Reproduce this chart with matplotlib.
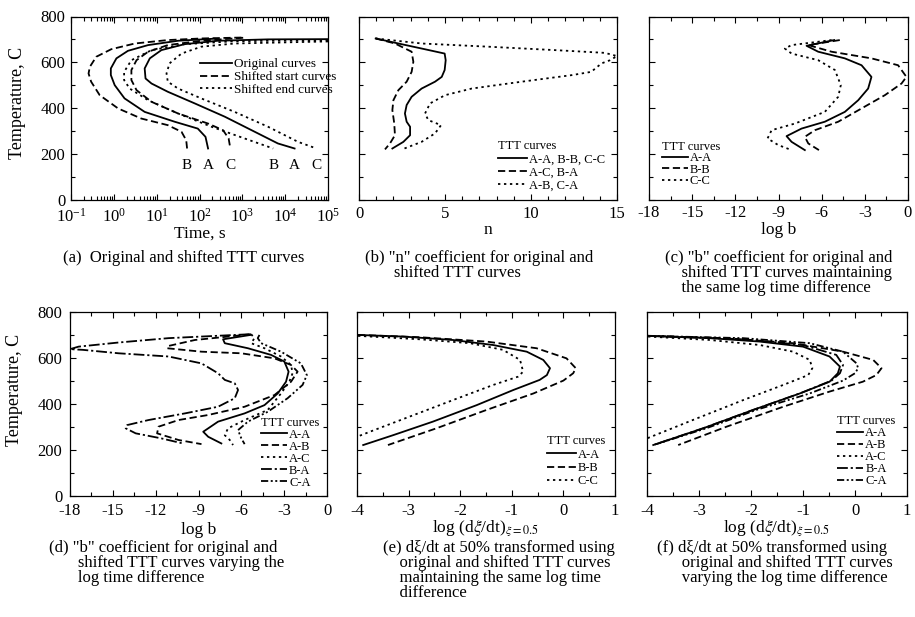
import numpy as np
import matplotlib
matplotlib.use('Agg')
import matplotlib.pyplot as plt
from matplotlib.ticker import MultipleLocator, LogLocator, NullFormatter

plt.rcParams['font.family'] = ['Liberation Serif', 'DejaVu Serif']
plt.rcParams['mathtext.fontset'] = 'stix'
plt.rcParams['axes.unicode_minus'] = False
plt.rcParams['axes.linewidth'] = 0.9

# (a) TTT curves, log10(time in s) against temperature in C
a_start_logt = [2.35, 1.50, 0.80, 0.33, 0.06, -0.07, -0.07, 0.02, 0.25, 0.72, 1.42, 1.96, 2.14, 2.20]
a_start_T = [703, 694, 675, 650, 617, 573, 544, 500, 442, 383, 340, 310, 274, 223]
b_start_logt = [2.98, 2.04, 1.26, 0.49, -0.06, -0.41, -0.56, -0.59, -0.53, -0.33, 0.10, 0.64, 1.26, 1.58, 1.69, 1.71]
b_start_T = [708, 704, 697, 682, 657, 624, 580, 551, 515, 456, 398, 354, 325, 296, 259, 223]
c_start_logt = [3.02, 2.04, 1.26, 0.80, 0.53, 0.41, 0.41, 0.53, 0.88, 1.50, 2.20, 2.55, 2.68, 2.72]
c_start_T = [707, 694, 675, 646, 609, 566, 522, 478, 427, 376, 332, 303, 267, 223]
a_end_logt = [5.0, 3.60, 2.43, 1.65, 1.11, 0.84, 0.72, 0.74, 0.88, 1.26, 1.89, 2.59, 3.29, 3.83, 4.22]
a_end_T = [701, 700, 694, 679, 653, 617, 573, 529, 507, 471, 420, 362, 296, 245, 223]
b_end_logt = [5.0, 2.82, 1.65, 0.88, 0.41, 0.24, 0.24, 0.37, 0.80, 1.50, 2.28, 3.05, 3.72]
b_end_T = [697, 692, 679, 653, 609, 558, 522, 485, 434, 376, 318, 267, 223]
c_end_logt = [5.0, 2.82, 2.04, 1.58, 1.30, 1.23, 1.26, 1.50, 2.04, 2.82, 3.60, 4.30, 4.73]
c_end_T = [691, 682, 668, 638, 595, 551, 515, 485, 442, 383, 318, 252, 223]
curve_letters = ['B', 'A', 'C', 'B', 'A', 'C']

# (b) n coefficient
n_same = [0.97, 2.29, 3.64, 4.98, 5.04, 4.98, 4.81, 4.42, 3.64, 3.06, 2.77, 2.67, 2.77, 2.97, 2.97, 2.58, 1.94]
n_same_T = [704, 682, 660, 638, 609, 566, 536, 515, 485, 449, 413, 376, 340, 318, 281, 252, 223]
n_ac_ba = [0.97, 2.09, 3.06, 3.16, 3.06, 2.77, 2.29, 2.0, 1.94, 2.05, 2.09, 1.80, 1.51]
n_ac_ba_T = [704, 682, 646, 602, 558, 515, 478, 434, 391, 332, 281, 245, 219]
n_ab_ca = [0.97, 3.64, 7.52, 11.4, 14.3, 15.0, 14.6, 14.1, 13.5, 12.4, 9.46, 6.55, 5.0, 4.13, 3.84, 4.03, 4.77, 4.42, 3.64, 2.64]
n_ab_ca_T = [704, 682, 668, 653, 641, 627, 609, 595, 558, 544, 515, 485, 456, 420, 376, 347, 325, 289, 252, 223]

# (c) log b, same log time difference
c_logb_aa = [-5.13, -7.05, -6.24, -4.39, -3.23, -2.54, -2.77, -3.46, -4.39, -5.78, -7.40, -8.44, -8.09, -7.17]
c_T_aa = [697, 672, 646, 617, 587, 536, 485, 434, 383, 340, 310, 277, 252, 216]
c_logb_bb = [-4.74, -6.93, -5.31, -2.54, -0.69, -0.11, -0.45, -1.61, -3.23, -4.85, -6.47, -7.17, -6.93, -6.19]
c_T_bb = [697, 675, 646, 617, 587, 536, 507, 456, 398, 340, 303, 274, 245, 216]
c_logb_cc = [-5.31, -8.09, -8.56, -8.09, -6.24, -5.08, -4.67, -4.85, -5.78, -7.86, -9.48, -9.76, -9.02, -8.09]
c_T_cc = [697, 675, 660, 638, 609, 566, 500, 449, 383, 332, 303, 267, 238, 216]

# (d) log b, varying log time difference
d_logb_aa = [-5.36, -7.28, -7.16, -5.54, -3.92, -2.99, -2.69, -2.87, -3.45, -4.38, -5.77, -7.63, -8.67, -8.32, -7.40]
d_T_aa = [700, 681, 664, 642, 613, 584, 540, 496, 445, 394, 358, 322, 278, 256, 227]
d_logb_ab = [-5.31, -9.25, -11.1, -11.2, -8.79, -6.0, -3.68, -2.52, -2.06, -2.52, -3.68, -5.77, -8.32, -10.4, -11.8, -11.9, -10.4, -8.79]
d_T_ab = [703, 678, 652, 642, 627, 620, 598, 569, 540, 496, 438, 387, 351, 329, 300, 271, 242, 224]
d_logb_ac = [-5.31, -5.08, -5.31, -4.38, -3.22, -2.52, -2.41, -2.64, -3.22, -4.15, -5.77, -6.93, -7.16, -6.81, -6.58]
d_T_ac = [703, 686, 664, 642, 606, 569, 533, 496, 445, 373, 329, 293, 263, 242, 220]
d_logb_ba = [-5.43, -11.1, -14.6, -17.4, -18.0, -17.1, -14.6, -11.1, -8.79, -7.63, -7.16, -6.46, -6.23, -6.46, -7.63, -9.95, -12.5, -14.0, -14.1, -13.4, -11.6, -10.1]
d_T_ba = [703, 686, 667, 649, 638, 635, 620, 606, 576, 533, 504, 489, 460, 424, 387, 358, 329, 307, 293, 271, 249, 227]
d_logb_ca = [-4.73, -4.85, -4.61, -3.22, -1.83, -1.41, -1.71, -2.76, -4.15, -5.54, -6.23, -6.0, -5.77]
d_T_ca = [700, 686, 664, 627, 576, 525, 482, 424, 365, 322, 285, 249, 224]

# (e) log rate at 50 %, same log time difference
e_rate_aa = [-3.98, -3.11, -2.14, -1.36, -0.71, -0.39, -0.26, -0.32, -0.46, -0.97, -1.68, -2.53, -3.30, -3.88]
e_T_aa = [700, 693, 678, 656, 627, 591, 555, 525, 504, 460, 394, 322, 263, 220]
e_rate_bb = [-3.98, -2.78, -1.49, -0.52, 0.06, 0.24, 0.19, 0.0, -0.58, -1.49, -2.46, -3.40]
e_T_bb = [700, 690, 671, 642, 598, 555, 533, 501, 445, 373, 293, 220]
e_rate_cc = [-3.98, -2.78, -1.81, -1.17, -0.84, -0.78, -0.88, -1.36, -2.14, -2.98, -3.75, -4.0]
e_T_cc = [696, 681, 664, 635, 591, 540, 518, 482, 416, 344, 278, 256]

# (f) log rate at 50 %, varying log time difference
f_rate_aa = [-3.98, -2.79, -1.83, -1.0, -0.49, -0.29, -0.33, -0.49, -1.06, -1.96, -2.92, -3.88]
f_T_aa = [696, 686, 671, 649, 606, 562, 533, 496, 445, 373, 293, 220]
f_rate_ab = [-3.98, -2.47, -1.19, -0.23, 0.35, 0.51, 0.41, 0.15, -0.49, -1.38, -2.47, -3.40]
f_T_ab = [696, 686, 664, 627, 591, 555, 525, 496, 453, 387, 300, 220]
f_rate_ac = [-3.98, -2.79, -1.83, -1.19, -0.87, -0.82, -0.90, -1.38, -2.15, -3.12, -4.0]
f_T_ac = [693, 678, 656, 627, 591, 555, 525, 482, 416, 329, 249]
f_rate_ba = [-3.98, -2.15, -1.0, -0.36, -0.23, -0.29, -0.45, -1.06, -1.96, -2.92, -3.88]
f_T_ba = [696, 681, 656, 613, 569, 533, 501, 445, 373, 293, 220]
f_rate_ca = [-3.98, -2.15, -0.87, -0.23, 0.03, 0.06, 0.0, -0.23, -0.87, -1.90, -2.86, -3.82]
f_T_ca = [696, 686, 664, 627, 576, 555, 533, 501, 445, 373, 293, 224]

SOLID = '-'
DASHED = (0, (4.0, 2.0))
DOTTED = (0, (1.3, 2.0))
DASHDOT = (0, (6.0, 1.6, 1.2, 1.6))
DASHDOTDOT = (0, (4.0, 1.4, 1.1, 1.4, 1.1, 1.4))
LW = 1.3

W, H = 915, 617
fig = plt.figure(figsize=(W / 100, H / 100), dpi=100)


def add_axes(left, top, right, bottom):
    return fig.add_axes([left / W, 1 - bottom / H, (right - left) / W, (bottom - top) / H])


def style(ax, xlim, major, minor, ylabels, xpad, ypad=4):
    ax.set_xlim(*xlim)
    ax.set_ylim(0, 800)
    if major:
        ax.xaxis.set_major_locator(MultipleLocator(major))
        ax.xaxis.set_minor_locator(MultipleLocator(minor))
    ax.yaxis.set_major_locator(MultipleLocator(200))
    ax.yaxis.set_minor_locator(MultipleLocator(100))
    ax.tick_params(which='both', direction='in', top=True, right=True, labelsize=12, width=0.8)
    ax.tick_params(which='major', length=4.5)
    ax.tick_params(which='minor', length=3)
    ax.tick_params(axis='x', pad=xpad)
    ax.tick_params(axis='y', pad=ypad, labelleft=ylabels)
    if ylabels:
        ax.set_ylabel('Temperature, C', fontsize=13)


def xlabel(ax, text, y):
    ax.set_xlabel(text, fontsize=12.5, va='center')
    ax.xaxis.set_label_coords(0.5, y)


def legend(ax, x, y, title=None, spacing=0.1, hl=2.3):
    ax.legend(loc='upper left', bbox_to_anchor=(x, y), title=title, frameon=False,
              fontsize=9, title_fontsize=9, alignment='left', handlelength=hl,
              handletextpad=0.15, labelspacing=spacing, borderpad=0, borderaxespad=0)


def caption(x, top, lines, indent_spaces=0):
    # hanging indent for the continuation lines
    pad = ' ' * indent_spaces
    text = '\n'.join([lines[0]] + [pad + s for s in lines[1:]])
    fig.text(x / W, 1 - top / H, text, fontsize=12, va='top', ha='left', linespacing=0.92)


# (a)
ax = add_axes(71, 16.5, 328, 199.5)
ax.set_xscale('log')
style(ax, (0.1, 1e5), None, None, True, 6.2)
ax.xaxis.set_major_locator(LogLocator(base=10, numticks=10))
ax.xaxis.set_minor_locator(LogLocator(base=10, subs=np.arange(2, 10), numticks=20))
ax.xaxis.set_minor_formatter(NullFormatter())
curves = [(b_start_logt, b_start_T, DASHED, 'Shifted start curves'),
          (a_start_logt, a_start_T, SOLID, 'Original curves'),
          (c_start_logt, c_start_T, DASHED, None),
          (b_end_logt, b_end_T, DOTTED, 'Shifted end curves'),
          (a_end_logt, a_end_T, SOLID, None),
          (c_end_logt, c_end_T, DOTTED, None)]
for (lt, T, ls, lab), letter in zip(curves, curve_letters):
    t = 10 ** np.array(lt)
    ax.plot(t, T, color='black', lw=LW, ls=ls, label=lab)
    ax.text(t[-1], 150, letter, ha='center', va='center', fontsize=11)
h, l = ax.get_legend_handles_labels()
order = [l.index('Original curves'), l.index('Shifted start curves'), l.index('Shifted end curves')]
ax.legend([h[i] for i in order], [l[i] for i in order], loc='upper left', bbox_to_anchor=(0.502, 0.773),
          frameon=False, fontsize=9.5, handlelength=2.4, handletextpad=0.15, labelspacing=0.05,
          borderpad=0, borderaxespad=0)
ax.yaxis.set_label_coords(-0.175, 0.53)
xlabel(ax, 'Time, s', -0.185)
caption(63, 250, ['(a)  Original and shifted TTT curves'])

# (b)
ax = add_axes(359, 16.5, 617, 199.5)
style(ax, (0, 15), 5, 1, False, 4.5)
ax.plot(n_same, n_same_T, color='black', lw=LW, ls=SOLID, label='A-A, B-B, C-C')
ax.plot(n_ac_ba, n_ac_ba_T, color='black', lw=LW, ls=DASHED, label='A-C, B-A')
ax.plot(n_ab_ca, n_ab_ca_T, color='black', lw=LW, ls=DOTTED, label='A-B, C-A')
legend(ax, 0.539, 0.325, 'TTT curves')
xlabel(ax, 'n', -0.167)
caption(365, 250, ['(b) "n" coefficient for original and', 'shifted TTT curves'], 7)

# (c)
ax = add_axes(649, 16.5, 908, 199.5)
style(ax, (-18, 0), 3, 1.5, False, 4.0)
ax.plot(c_logb_aa, c_T_aa, color='black', lw=LW, ls=SOLID, label='A-A')
ax.plot(c_logb_bb, c_T_bb, color='black', lw=LW, ls=DASHED, label='B-B')
ax.plot(c_logb_cc, c_T_cc, color='black', lw=LW, ls=DOTTED, label='C-C')
legend(ax, 0.049, 0.321, 'TTT curves', spacing=-0.05, hl=2.1)
xlabel(ax, 'log b', -0.167)
caption(665, 250, ['(c) "b" coefficient for original and', 'shifted TTT curves maintaining',
                   'the same log time difference'], 4)

# (d)
ax = add_axes(70, 312, 327, 495.5)
style(ax, (-18, 0), 3, 1.5, True, 5.4, 5.5)
ax.plot(d_logb_aa, d_T_aa, color='black', lw=LW, ls=SOLID, label='A-A')
ax.plot(d_logb_ab, d_T_ab, color='black', lw=LW, ls=DASHED, label='A-B')
ax.plot(d_logb_ac, d_T_ac, color='black', lw=LW, ls=DOTTED, label='A-C')
ax.plot(d_logb_ba, d_T_ba, color='black', lw=LW, ls=DASHDOT, label='B-A')
ax.plot(d_logb_ca, d_T_ca, color='black', lw=LW, ls=DASHDOTDOT, label='C-A')
legend(ax, 0.743, 0.429, 'TTT curves', spacing=0.0, hl=2.1)
ax.yaxis.set_label_coords(-0.183, 0.577)
xlabel(ax, 'log b', -0.19)
caption(49, 540, ['(d) "b" coefficient for original and', 'shifted TTT curves varying the',
                  'log time difference'], 7)

# (e)
rate_label = r'log (d$\xi$/dt)$_{\xi=0.5}$'
ax = add_axes(357, 312, 615, 495.5)
style(ax, (-4, 1), 1, 0.5, False, 5.4)
ax.plot(e_rate_aa, e_T_aa, color='black', lw=LW, ls=SOLID, label='A-A')
ax.plot(e_rate_bb, e_T_bb, color='black', lw=LW, ls=DASHED, label='B-B')
ax.plot(e_rate_cc, e_T_cc, color='black', lw=LW, ls=DOTTED, label='C-C')
legend(ax, 0.736, 0.327, 'TTT curves')
xlabel(ax, rate_label, -0.176)
caption(383, 540, ['(e) dξ/dt at 50% transformed using', 'original and shifted TTT curves',
                   'maintaining the same log time', 'difference'], 4)

# (f)
ax = add_axes(647, 312, 907, 495.5)
style(ax, (-4, 1), 1, 0.5, False, 5.4)
ax.plot(f_rate_aa, f_T_aa, color='black', lw=LW, ls=SOLID, label='A-A')
ax.plot(f_rate_ab, f_T_ab, color='black', lw=LW, ls=DASHED, label='A-B')
ax.plot(f_rate_ac, f_T_ac, color='black', lw=LW, ls=DOTTED, label='A-C')
ax.plot(f_rate_ba, f_T_ba, color='black', lw=LW, ls=DASHDOT, label='B-A')
ax.plot(f_rate_ca, f_T_ca, color='black', lw=LW, ls=DASHDOTDOT, label='C-A')
legend(ax, 0.731, 0.436, 'TTT curves', spacing=0.0, hl=2.1)
xlabel(ax, rate_label, -0.176)
caption(657, 540, ['(f) dξ/dt at 50% transformed using', 'original and shifted TTT curves',
                   'varying the log time difference'], 6)

fig.savefig('out.png', dpi=100)
